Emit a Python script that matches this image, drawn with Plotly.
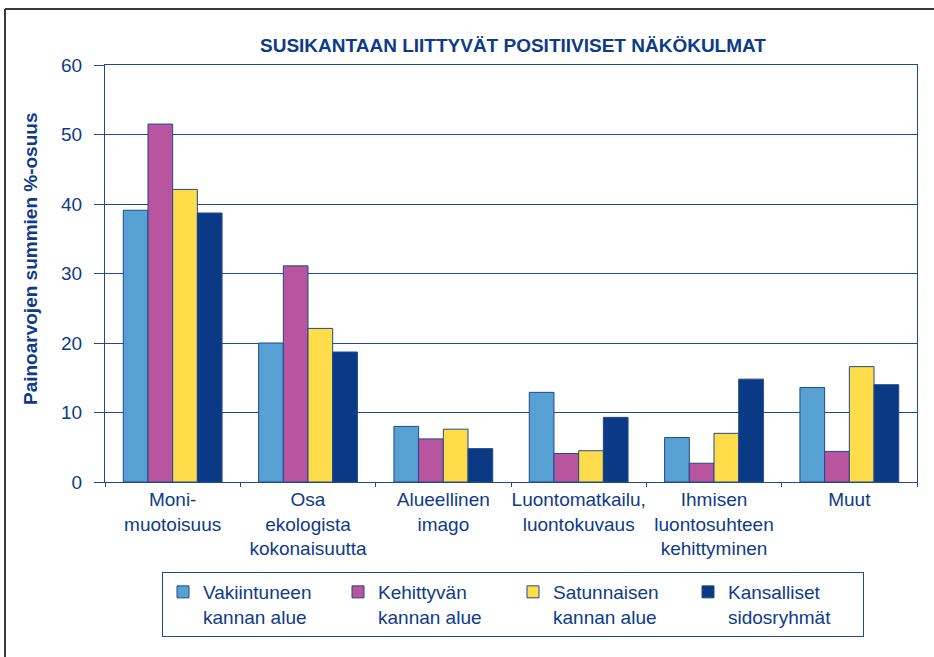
import plotly.graph_objects as go

categories = ["Moni-<br>muotoisuus", "Osa<br>ekologista<br>kokonaisuutta", "Alueellinen<br>imago",
              "Luontomatkailu,<br>luontokuvaus", "Ihmisen<br>luontosuhteen<br>kehittyminen", "Muut"]
series_names = ["Vakiintuneen<br>kannan alue", "Kehittyvän<br>kannan alue",
                "Satunnaisen<br>kannan alue", "Kansalliset<br>sidosryhmät"]
vakiintuneen = [39.1, 20.0, 8.0, 12.9, 6.4, 13.6]
kehittyvan = [51.5, 31.1, 6.2, 4.1, 2.7, 4.4]
satunnaisen = [42.1, 22.1, 7.6, 4.5, 7.0, 16.6]
kansalliset = [38.7, 18.7, 4.8, 9.3, 14.8, 14.0]
colors = ["#56A0D3", "#B8559E", "#FFDD4A", "#0A3A86"]
y_ticks = [0, 10, 20, 30, 40, 50, 60]

TXT = "#0D3B8A"
LINE = "#1F4A8C"
FONT = "Liberation Sans, Arial, sans-serif"

W, H = 934, 657
L, R, T, B = 105, 917, 65, 482

def px(x):
    return (x - L) / (R - L)

def py(y):
    return (B - y) / (B - T)

fig = go.Figure()
for name, vals, col in zip(series_names, [vakiintuneen, kehittyvan, satunnaisen, kansalliset], colors):
    fig.add_trace(go.Bar(x=categories, y=vals, name=name,
                         marker=dict(color=col, line=dict(color=LINE, width=1))))

fig.update_layout(
    width=W, height=H,
    margin=dict(l=L, r=W - R, t=T, b=H - B, pad=0, autoexpand=False),
    paper_bgcolor="white", plot_bgcolor="white",
    barmode="group", bargap=0.27, bargroupgap=0,
    font=dict(family=FONT, size=19, color=TXT),
    title=dict(text="<b>SUSIKANTAAN LIITTYVÄT POSITIIVISET NÄKÖKULMAT</b>",
               xref="container", x=513 / W, xanchor="center",
               yref="container", y=1 - 45 / H, yanchor="middle",
               font=dict(size=19, color=TXT)),
    showlegend=True,
    legend=dict(orientation="h", x=px(162), xanchor="left", y=py(572), yanchor="top",
                bordercolor=LINE, borderwidth=1, bgcolor="white",
                font=dict(size=19, color=TXT), valign="top",
                entrywidth=130, entrywidthmode="pixels", traceorder="normal",
                itemwidth=30),
    xaxis=dict(showgrid=False, showline=True, linecolor=LINE, linewidth=1, mirror=True,
               ticks="outside", ticklen=4, tickcolor=LINE, tickson="boundaries",
               tickangle=0, tickfont=dict(size=19, color=TXT)),
    yaxis=dict(range=[0, 60], tickvals=y_ticks, showgrid=True, gridcolor=LINE, gridwidth=1,
               showline=True, linecolor=LINE, linewidth=1, mirror=True,
               ticks="outside", ticklen=10, tickcolor=LINE, ticklabelstandoff=8,
               tickfont=dict(size=19, color=TXT), zeroline=False),
    annotations=[dict(text="<b>Painoarvojen summien %-osuus</b>", textangle=-90,
                      xref="paper", yref="paper", x=px(30), y=py(259),
                      xanchor="center", yanchor="middle", showarrow=False,
                      font=dict(size=19, color=TXT))],
    shapes=[
        dict(type="line", xref="paper", yref="paper", x0=px(5), x1=px(5), y0=py(9), y1=py(660),
             line=dict(color="#3a3a3a", width=2)),
        dict(type="line", xref="paper", yref="paper", x0=px(5), x1=px(940), y0=py(9), y1=py(9),
             line=dict(color="#3a3a3a", width=2)),
    ],
)

fig.write_html("out.html", config={"displayModeBar": False},
               post_script="document.body.style.margin='0';")
